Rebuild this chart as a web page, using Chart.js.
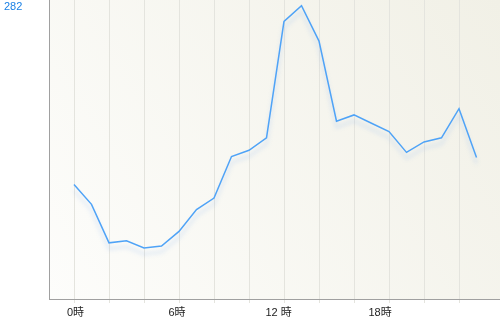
<!DOCTYPE html>
<html><head><meta charset="utf-8">
<script src="https://cdn.jsdelivr.net/npm/chart.js@4"></script>
<style>html,body{margin:0;padding:0;background:#fff}#w{width:500px;height:317px;position:relative}</style>
</head><body><div id="w"><canvas id="c"></canvas></div>
<script>
const hours = [0,1,2,3,4,5,6,7,8,9,10,11,12,13,14,15,16,17,18,19,20,21,22,23];
const values = [110,91,54,56,49,51,65,86,97,137,143,155,267,282,248,171,177,169,161,141,151,155,183,136];
const labelHours = [0,6,12,18];
const labelTexts = ['0時','6時','12 時','18時'];
const gridHours = [0,2,4,6,8,10,12,14,16,18,20,22];
const yTicks = [282];

const FONT = {family:"'Liberation Sans','Noto Sans CJK JP',sans-serif", size:11};

const bgPlugin = {
  id:'bg',
  beforeDraw(chart){
    const {ctx, chartArea:a} = chart;
    const g = ctx.createLinearGradient(a.left, a.bottom, a.right, a.top);
    g.addColorStop(0,'#fdfdfb');
    g.addColorStop(1,'#f1f0e6');
    ctx.save(); ctx.fillStyle=g; ctx.fillRect(a.left,a.top,a.right-a.left,a.bottom-a.top); ctx.restore();
  }
};
const shadowPlugin = {
  id:'shadow',
  beforeDatasetDraw(chart){
    const ctx=chart.ctx; ctx.save();
    ctx.shadowColor='rgba(120,170,240,0.35)'; ctx.shadowBlur=4; ctx.shadowOffsetY=6;
  },
  afterDatasetDraw(chart){ chart.ctx.restore(); }
};

new Chart(document.getElementById('c'), {
  type:'line',
  data:{datasets:[{
    data: hours.map((h,i)=>({x:h,y:values[i]})),
    borderColor:'#4fa3f7', borderWidth:1.5, pointRadius:0, tension:0, fill:false
  }]},
  plugins:[bgPlugin, shadowPlugin],
  options:{
    responsive:true, maintainAspectRatio:false, animation:false,
    layout:{padding:{left:4,top:0,right:0,bottom:0}},
    plugins:{legend:{display:false}, tooltip:{enabled:false}},
    scales:{
      x:{type:'linear', position:'bottom', min:-25/17.5, max:23+23.5/17.5,
        ticks:{display:false},
        grid:{color:'#e4e4de', lineWidth:1, drawTicks:true, tickLength:4},
        border:{display:true, color:'#a0a0a0', width:1},
        afterBuildTicks(s){ s.ticks = gridHours.map(v=>({value:v})); },
        afterFit(s){ s.height=4; s.paddingLeft=0; s.paddingRight=0; }
      },
      xl:{type:'linear', position:'bottom', min:-26.5/16.92, max:(500-75.5)/16.92,
        grid:{display:false, drawTicks:false}, border:{display:false},
        ticks:{padding:3, font:FONT, color:'#222', maxRotation:0, autoSkip:false,
          callback(v){ const i=labelHours.indexOf(v); return i<0?'':labelTexts[i]; }},
        afterBuildTicks(s){ s.ticks = labelHours.map(v=>({value:v})); },
        afterFit(s){ s.height=14; s.paddingLeft=0; s.paddingRight=0; }
      },
      y:{min:0, max:287.5,
        grid:{display:false},
        border:{display:true, color:'#a0a0a0', width:1},
        ticks:{color:'#1a80e5', font:FONT, crossAlign:'far', padding:0, labelOffset:1.5},
        afterBuildTicks(s){ s.ticks = yTicks.map(v=>({value:v})); },
        afterFit(s){ s.width=45; s.paddingTop=0; s.paddingBottom=0; }
      }
    }
  }
});
</script></body></html>
